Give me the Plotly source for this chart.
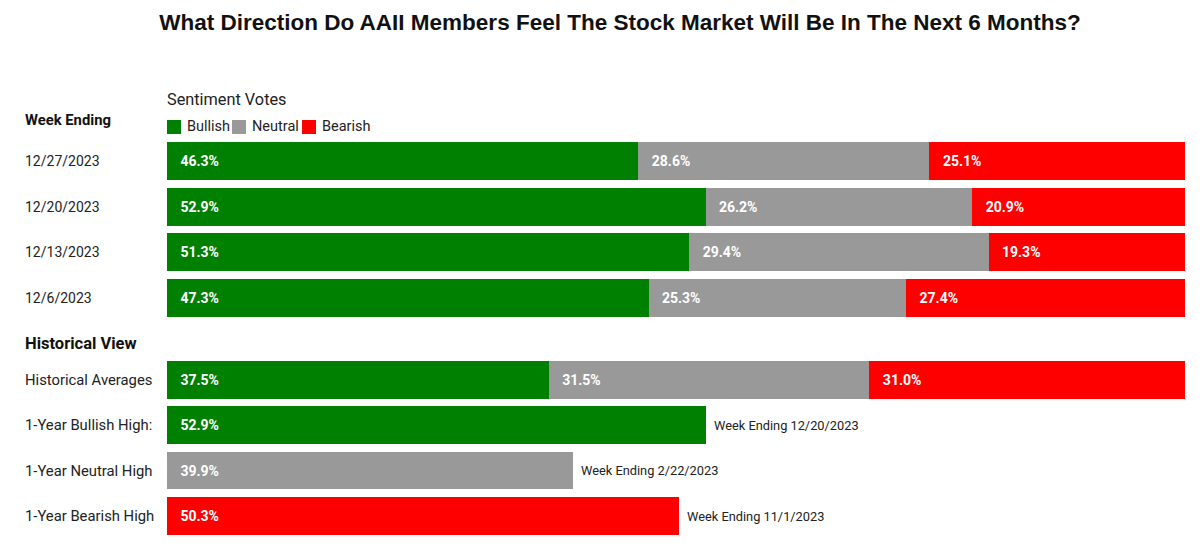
import plotly.graph_objects as go
from plotly.subplots import make_subplots

# weekly sentiment
weeks = ["12/27/2023", "12/20/2023", "12/13/2023", "12/6/2023"]
bullish = [46.3, 52.9, 51.3, 47.3]
neutral = [28.6, 26.2, 29.4, 25.3]
bearish = [25.1, 20.9, 19.3, 27.4]

# historical view
hist_rows = ["Historical Averages", "1-Year Bullish High:", "1-Year Neutral High", "1-Year Bearish High"]
hist_avg = [37.5, 31.5, 31.0]  # bullish, neutral, bearish
high_bullish = 52.9
high_neutral = 39.9
high_bearish = 50.3
high_dates = ["Week Ending 12/20/2023", "Week Ending 2/22/2023", "Week Ending 11/1/2023"]

series = ["Bullish", "Neutral", "Bearish"]

GREEN = "#008000"
GREY = "#999999"
RED = "#ff0000"
COLORS = [GREEN, GREY, RED]
FONT = "Roboto"
TXT = "   %{x:.1f}%".replace(" ", "\u00a0")

# page body has an 8px margin, so size the figure to fit the window
W, H = 1186, 539
PLOT_L, PLOT_W = 167, 1018


def py(ref_y):
    # pixel row in the page -> paper fraction
    return 1 - (ref_y - 8) / H


def px(ref_x):
    return (ref_x - PLOT_L) / PLOT_W


fig = make_subplots(rows=2, cols=1, shared_xaxes=False, vertical_spacing=0.05)

for name, vals, col in zip(series, [bullish, neutral, bearish], COLORS):
    fig.add_trace(go.Bar(y=weeks, x=vals, orientation="h", name=name, marker_color=col,
                         marker_line_width=0, width=0.83, showlegend=False,
                         texttemplate=TXT, textposition="inside", insidetextanchor="start",
                         constraintext="none",
                         textfont=dict(color="white", family=FONT, size=14, weight="bold"),
                         hoverinfo="skip"),
                  row=1, col=1)

hist_parts = [
    ([hist_rows[0], hist_rows[1]], [hist_avg[0], high_bullish]),
    ([hist_rows[0], hist_rows[2]], [hist_avg[1], high_neutral]),
    ([hist_rows[0], hist_rows[3]], [hist_avg[2], high_bearish]),
]
for name, col, (ys, xs) in zip(series, COLORS, hist_parts):
    fig.add_trace(go.Bar(y=ys, x=xs, orientation="h", name=name, marker_color=col,
                         marker_line_width=0, width=0.83, showlegend=False,
                         texttemplate=TXT, textposition="inside", insidetextanchor="start",
                         constraintext="none",
                         textfont=dict(color="white", family=FONT, size=14, weight="bold"),
                         hoverinfo="skip"),
                  row=2, col=1)

LX = px(25)  # left edge of row labels

for w in weeks:
    fig.add_annotation(x=LX, xref="paper", y=w, yref="y", text=w, showarrow=False, xshift=-2,
                       xanchor="left", font=dict(family=FONT, size=14, color="#222"))
for r in hist_rows:
    fig.add_annotation(x=LX, xref="paper", y=r, yref="y2", text=r, showarrow=False, xshift=-2,
                       xanchor="left", font=dict(family=FONT, size=14.8, color="#222"))

# week ending notes next to the 1-year highs
for r, v, t in zip(hist_rows[1:], [high_bullish, high_neutral, high_bearish], high_dates):
    fig.add_annotation(x=v, xref="x2", y=r, yref="y2", text=t, showarrow=False,
                       xanchor="left", xshift=6, font=dict(family=FONT, size=12.8, color="#222"))

fig.add_annotation(x=LX, xref="paper", y=py(120), yref="paper", yanchor="middle", xshift=-2,
                   text="<b>Week Ending</b>", showarrow=False, xanchor="left",
                   font=dict(family=FONT, size=14.8, color="#111"))
fig.add_annotation(x=LX, xref="paper", y=py(343), yref="paper", yanchor="middle", xshift=-2,
                   text="<b>Historical View</b>", showarrow=False, xanchor="left",
                   font=dict(family=FONT, size=16.5, color="#111"))

# legend drawn by hand: title, then swatch + label per series
fig.add_annotation(x=0, xref="paper", y=py(100), yref="paper", yanchor="middle", xanchor="left",
                   text="Sentiment Votes", showarrow=False, xshift=-2,
                   font=dict(family=FONT, size=16.3, color="#222"))
swatch_x = [167, 232, 302]
for name, col, sx in zip(series, COLORS, swatch_x):
    fig.add_shape(type="rect", xref="paper", yref="paper",
                  x0=px(sx), x1=px(sx + 14), y0=py(134), y1=py(120),
                  fillcolor=col, line_width=0)
    fig.add_annotation(x=px(sx + 18), xref="paper", y=py(127), yref="paper",
                       yanchor="middle", xanchor="left", text=name, showarrow=False,
                       font=dict(family=FONT, size=14.5, color="#222"))

fig.update_xaxes(range=[0, 100], visible=False, fixedrange=True)
fig.update_yaxes(showticklabels=False, showgrid=False, zeroline=False, autorange="reversed",
                 categoryorder="array")
fig.update_yaxes(categoryarray=weeks, domain=[py(320.8), py(138.2)], row=1, col=1)
fig.update_yaxes(categoryarray=hist_rows, domain=[py(538.7), py(357.3)], row=2, col=1)

fig.update_layout(
    width=W, height=H,
    barmode="stack",
    plot_bgcolor="white", paper_bgcolor="white",
    margin=dict(l=PLOT_L - 8, r=W - (PLOT_L - 8) - PLOT_W, t=0, b=0),
    title=dict(text="<b>What Direction Do AAII Members Feel The Stock Market Will Be In The Next 6 Months?</b>",
               x=612 / W, xanchor="center", y=py(22), yanchor="middle", yref="container",
               font=dict(family="Liberation Sans", size=22.5, color="#111")),
    showlegend=False,
    font=dict(family=FONT),
)

fig.write_html("out.html")
